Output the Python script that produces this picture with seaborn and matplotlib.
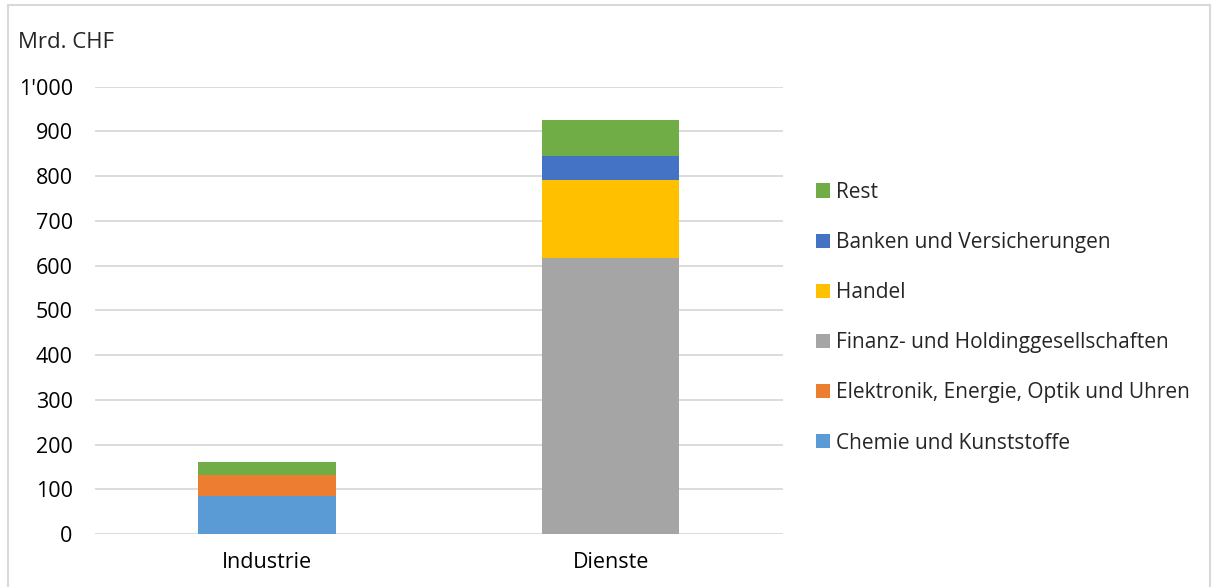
import numpy as np
import pandas as pd
import matplotlib
matplotlib.use("Agg")
import matplotlib.pyplot as plt
from matplotlib.patches import Rectangle, Patch
import seaborn as sns

sns.set_style("white")
plt.rcParams["font.family"] = ["Open Sans", "DejaVu Sans"]

# data (Mrd. CHF)
categories = ["Industrie", "Dienste"]
series = ["Chemie und Kunststoffe", "Elektronik, Energie, Optik und Uhren",
          "Finanz- und Holdinggesellschaften", "Handel",
          "Banken und Versicherungen", "Rest"]
chemie = [84, 0]
elektronik = [47, 0]
finanz = [0, 618]
handel = [0, 173]
banken = [0, 54]
rest = [29, 81]
colors = ["#5b9bd5", "#ed7d31", "#a5a5a5", "#ffc000", "#4472c4", "#70ad47"]

df = pd.DataFrame({"Kategorie": categories, series[0]: chemie, series[1]: elektronik,
                   series[2]: finanz, series[3]: handel, series[4]: banken, series[5]: rest})

fig = plt.figure(figsize=(12.17, 5.87), dpi=100)
ax = fig.add_axes([0.078, 0.0903, 0.565, 0.762])

# stacked bars: draw cumulative totals from top down so each layer covers the next
cum = df[series].cumsum(axis=1)
for i in range(len(series) - 1, -1, -1):
    sns.barplot(x=df["Kategorie"], y=cum[series[i]], color=colors[i], width=0.4,
                ax=ax, saturation=1, linewidth=0, edgecolor="none", zorder=3)

ax.set_ylim(0, 1000)
ax.set_xlim(-0.5, 1.5)
ax.set_yticks(np.arange(0, 1001, 100))
ax.set_yticklabels([f"{v:,}".replace(",", "'") for v in range(0, 1001, 100)])
ax.yaxis.grid(True, color="#d9d9d9", linewidth=1.3, zorder=0)
ax.set_axisbelow(True)
for s in ax.spines.values():
    s.set_visible(False)
ax.tick_params(axis="both", length=0, labelsize=15.5, colors="#000000")
ax.tick_params(axis="y", pad=16)
ax.tick_params(axis="x", pad=13)
ax.set_xlabel("")
ax.set_ylabel("")

fig.text(18 / 1217, 1 - 43 / 587, "Mrd. CHF", fontsize=16, va="center", ha="left")

handles = [Patch(facecolor=colors[i], edgecolor="none") for i in range(len(series) - 1, -1, -1)]
labels = [series[i] for i in range(len(series) - 1, -1, -1)]
fig.legend(handles, labels, loc="upper left", bbox_to_anchor=(797 / 1217, 1 - 163 / 587),
           frameon=False, fontsize=15, handlelength=0.67, handleheight=0.67,
           handletextpad=0.3, labelspacing=1.4)

# outer chart frame
fig.patches.append(Rectangle((8 / 1217, -0.05), 1202 / 1217, 1.05 - 5 / 587, transform=fig.transFigure,
                             fill=False, edgecolor="#d9d9d9", linewidth=1.5))

fig.savefig("out.png", dpi=100)
